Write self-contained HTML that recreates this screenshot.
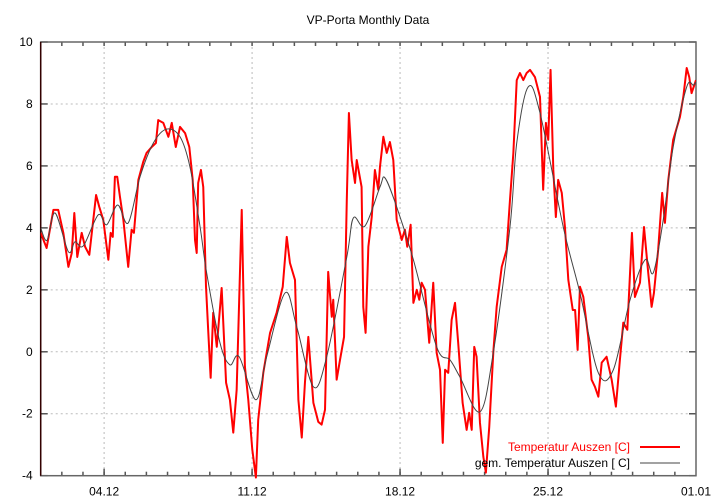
<!DOCTYPE html>
<html><head><meta charset="utf-8"><style>
html,body{margin:0;padding:0;background:#fff;}
svg{display:block;font-family:"Liberation Sans",sans-serif;}
</style></head><body>
<svg id="chart" width="720" height="504" viewBox="0 0 720 504" xmlns="http://www.w3.org/2000/svg">
<text x="368" y="24" font-size="12" text-anchor="middle" fill="#000">VP-Porta Monthly Data</text>
<g id="grid"></g>
<g id="axes"></g>
<g id="series"></g>
<g id="legend">
<text x="630" y="451" font-size="12" text-anchor="end" fill="#ff0000">Temperatur Auszen [C]</text>
<line x1="640" y1="447" x2="680" y2="447" stroke="#ff0000" stroke-width="2"/>
<text x="630" y="467" font-size="12" text-anchor="end" fill="#000">gem. Temperatur Auszen [ C]</text>
<line x1="640" y1="463" x2="680" y2="463" stroke="#444" stroke-width="1"/>
</g>
</svg>
<script>
const yTicks=[10,8,6,4,2,0,-2,-4];
const xTickDays=[3,10,17,24,31];
const xTickLabels=["04.12","11.12","18.12","25.12","01.01"];
const redDays=[0,0.28,0.60,0.83,1.07,1.31,1.47,1.59,1.73,1.94,2.10,2.30,2.62,2.77,2.96,3.20,3.31,3.41,3.51,3.62,3.75,3.91,4.14,4.30,4.41,4.62,4.85,5.01,5.25,5.45,5.56,5.80,6.04,6.20,6.39,6.59,6.83,7.03,7.19,7.30,7.38,7.45,7.58,7.69,7.82,7.93,8.04,8.16,8.33,8.56,8.77,8.95,9.11,9.27,9.39,9.51,9.66,9.82,10.01,10.18,10.29,10.53,10.85,11.16,11.45,11.64,11.79,12.03,12.19,12.35,12.50,12.66,12.90,13.13,13.29,13.45,13.60,13.77,13.84,14.00,14.16,14.35,14.48,14.58,14.71,14.87,14.95,15.18,15.26,15.37,15.50,15.66,15.81,15.97,16.05,16.21,16.37,16.52,16.68,16.84,17.08,17.23,17.34,17.50,17.63,17.79,17.91,18.02,18.18,18.38,18.57,18.73,18.89,19.02,19.13,19.28,19.44,19.60,19.75,19.96,20.15,20.27,20.39,20.51,20.62,20.78,20.94,21.06,21.22,21.41,21.57,21.81,22.04,22.20,22.36,22.52,22.67,22.83,22.99,23.15,23.38,23.62,23.77,23.90,24.01,24.12,24.25,24.37,24.48,24.65,24.80,24.96,25.17,25.28,25.40,25.51,25.67,25.90,26.06,26.22,26.38,26.54,26.77,27.01,27.21,27.40,27.56,27.75,27.88,27.97,28.11,28.35,28.54,28.74,28.90,29.01,29.21,29.40,29.53,29.69,29.92,30.24,30.40,30.56,30.68,30.79,31.0];
const redTemps=[3.84,3.35,4.58,4.58,3.84,2.74,3.19,4.48,3.06,3.84,3.39,3.13,5.06,4.68,4.26,2.97,3.84,3.71,5.65,5.65,5.0,4.26,2.74,3.94,3.84,5.55,6.13,6.42,6.61,6.74,7.48,7.39,6.94,7.39,6.61,7.26,7.06,6.61,5.55,3.61,3.19,5.45,5.87,5.32,2.10,0.61,-0.84,1.26,0.16,2.06,-1.0,-1.55,-2.61,-1.23,1.68,4.58,-0.48,-1.55,-3.16,-4.06,-2.19,-0.68,0.61,1.26,2.10,3.71,2.87,2.32,-1.55,-2.77,-1.0,0.48,-1.65,-2.26,-2.35,-1.87,2.58,1.13,1.68,-0.9,-0.26,0.48,4.9,7.71,6.19,5.45,6.19,5.32,1.45,0.61,3.39,4.35,5.87,5.23,5.97,6.94,6.42,6.77,6.19,4.26,3.61,3.94,3.39,4.10,1.58,2.0,1.68,2.23,2.0,0.29,2.23,-0.03,-0.58,-2.94,-0.58,-0.68,1.03,1.58,0.29,-1.65,-2.52,-1.97,-2.52,0.16,-0.16,-2.29,-3.39,-3.9,-2.42,-0.03,1.45,2.74,3.29,4.90,6.42,8.77,9.0,8.77,9.0,9.1,8.87,8.23,5.23,7.39,6.84,9.1,5.87,4.35,5.55,5.13,4.03,2.32,1.35,1.35,0.06,2.1,1.77,0.48,-0.9,-1.13,-1.45,-0.35,-0.16,-0.9,-1.77,-0.26,0.94,0.71,2.55,3.84,1.77,2.23,4.03,2.55,1.45,1.9,3.29,5.13,4.16,5.55,6.84,7.58,8.23,9.16,8.87,8.35,8.77];
const meanDays=[0,0.3,0.68,1.31,1.62,2.02,2.72,3.12,3.64,4.14,4.70,5.33,5.96,6.59,7.06,7.54,7.85,8.48,8.95,9.39,10.18,10.69,11.56,12.11,12.90,13.53,14.48,14.79,15.34,16.05,16.29,16.84,17.63,18.73,19.36,19.83,20.78,21.41,22.20,22.52,23.06,23.62,24.72,25.51,26.38,27.09,27.88,28.59,28.98,29.45,29.92,30.56,30.87,31.0];
const meanTemps=[4.0,3.6,4.48,3.23,3.55,3.42,4.42,4.1,4.74,4.16,5.65,6.74,7.19,6.94,5.97,4.03,2.55,0.29,-0.42,-0.16,-1.55,-0.16,1.90,0.81,-1.13,-0.16,3.06,4.32,4.06,5.32,5.61,4.68,2.97,0.16,-0.26,-0.81,-1.94,-0.03,4.03,6.74,8.55,7.71,4.03,1.9,-0.68,-0.58,1.68,2.97,2.55,4.26,6.61,8.55,8.61,8.7];

const L=40.7,R=696,T=42,B=475.7,D0=0,D1=31,Y0=-4,Y1=10;
const xs=d=>L+(d-D0)/(D1-D0)*(R-L);
const ys=v=>B-(v-Y0)/(Y1-Y0)*(B-T);
const NS="http://www.w3.org/2000/svg";
function mk(tag,attrs,parent){const e=document.createElementNS(NS,tag);for(const k in attrs)e.setAttribute(k,attrs[k]);parent.appendChild(e);return e;}
const grid=document.getElementById('grid'),axes=document.getElementById('axes'),series=document.getElementById('series');
yTicks.forEach(v=>{
  const y=ys(v);
  if(v>Y0&&v<Y1){const g=mk('line',{x1:L,x2:R,y1:y,y2:y,stroke:'#bbb','stroke-dasharray':'2,3','stroke-width':1},grid);
  
  }
  const t=mk('line',{x1:L,x2:L+7,y1:y,y2:y,stroke:'#555','stroke-width':1.5},axes);
  
  
  const t2=mk('line',{x1:R-7,x2:R,y1:y,y2:y,stroke:'#555','stroke-width':1.5},axes);
  
  
  const lb=mk('text',{x:L-8,y:y+4,'font-size':12,'text-anchor':'end',fill:'#000'},axes);
  lb.textContent=v;
  
  
});
for(let d=1;d<31;d++){
  const x=xs(d);
  const a=mk('line',{x1:x,x2:x,y1:B,y2:B-4,stroke:'#555','stroke-width':1.5},axes);
  
  
  const b=mk('line',{x1:x,x2:x,y1:T,y2:T+4,stroke:'#555','stroke-width':1.5},axes);
  
  
}
xTickDays.forEach((d,i)=>{
  const x=xs(d);
  if(d<D1){const g=mk('line',{x1:x,x2:x,y1:T,y2:B,stroke:'#bbb','stroke-dasharray':'2,3','stroke-width':1},grid);
  
  
  const t=mk('line',{x1:x,x2:x,y1:B,y2:B-7,stroke:'#555','stroke-width':1.5},axes);
  
  }
  const lb=mk('text',{x:x,y:B+20,'font-size':12,'text-anchor':'middle',fill:'#000'},axes);
  lb.textContent=xTickLabels[i];
  
  
});
const frame=mk('rect',{x:L,y:T,width:R-L,height:B-T,fill:'none',stroke:'#666','stroke-width':1.5},axes);


const lax=mk('line',{x1:L,x2:L,y1:T,y2:B,stroke:'#300','stroke-width':1.5},axes);



// clip
const defs=mk('defs',{},series);
const cp=mk('clipPath',{id:'clip'},defs);
mk('rect',{x:L,y:T-2,width:R-L,height:B-T+6},cp);

// mean (smooth)
const mp=meanDays.map((d,i)=>[xs(d),ys(meanTemps[i])]);
let dstr='M'+mp[0][0]+','+mp[0][1];
for(let i=0;i<mp.length-1;i++){
  const p0=mp[Math.max(0,i-1)],p1=mp[i],p2=mp[i+1],p3=mp[Math.min(mp.length-1,i+2)];
  const c1=[p1[0]+(p2[0]-p0[0])/6,p1[1]+(p2[1]-p0[1])/6];
  const c2=[p2[0]-(p3[0]-p1[0])/6,p2[1]-(p3[1]-p1[1])/6];
  dstr+=' C'+c1.join(',')+' '+c2.join(',')+' '+p2.join(',');
}
const red=mk('polyline',{points:redDays.map((d,i)=>xs(d)+','+ys(redTemps[i])).join(' '),fill:'none',stroke:'#ff0000','stroke-width':2,'stroke-linejoin':'round','clip-path':'url(#clip)'},series);


const mean=mk('path',{d:dstr,fill:'none',stroke:'#444','stroke-width':1,'clip-path':'url(#clip)'},series);


</script>
</body></html>
